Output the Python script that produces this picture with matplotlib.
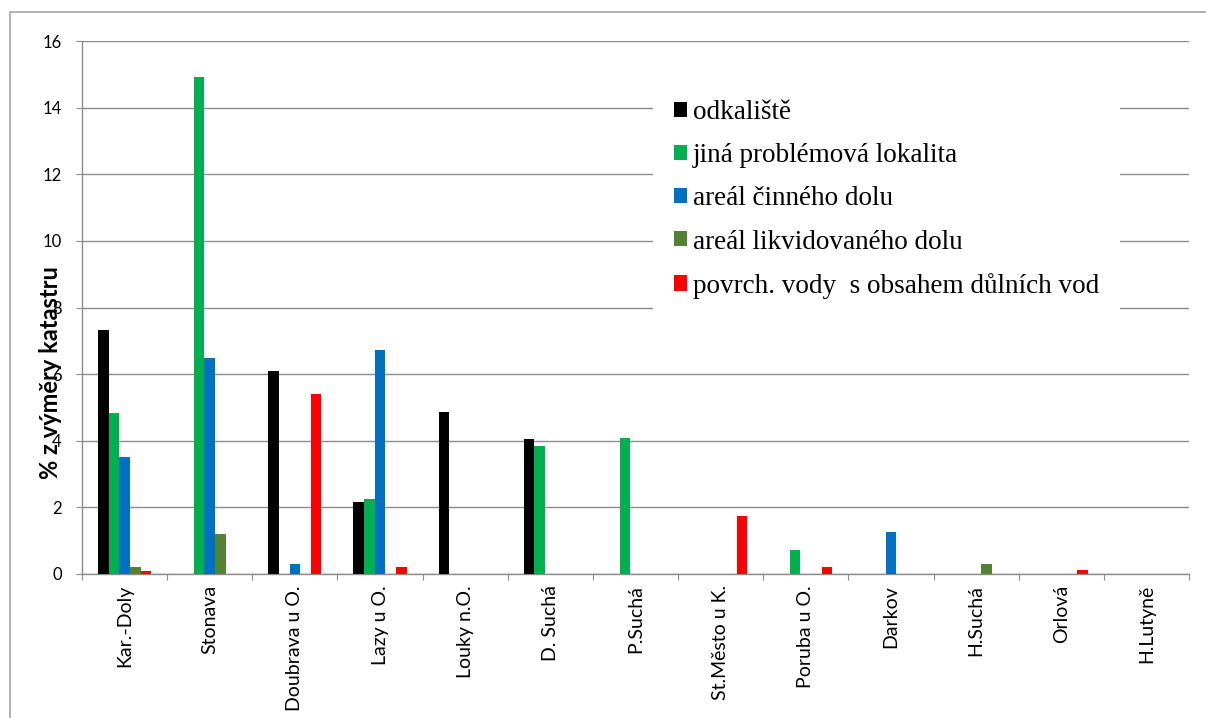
import numpy as np
import matplotlib.pyplot as plt
from matplotlib.patches import Rectangle

# lokality (poradi na ose x)
lokality = ['Kar.-Doly', 'Stonava', 'Doubrava u O.', 'Lazy u O.', 'Louky n.O.',
            'D. Suchá', 'P.Suchá', 'St.Město u K.', 'Poruba u O.', 'Darkov',
            'H.Suchá', 'Orlová', 'H.Lutyně']

# % z vymery katastru pro jednotlive typy ploch
odkaliste = [7.32, 0, 6.08, 2.17, 4.87, 4.06, 0, 0, 0, 0, 0, 0, 0]
jina_lokalita = [4.82, 14.92, 0, 2.26, 0, 3.83, 4.09, 0, 0.72, 0, 0, 0, 0]
cinny_dul = [3.51, 6.48, 0.30, 6.71, 0, 0, 0, 0, 0, 1.26, 0, 0, 0]
likvidovany_dul = [0.21, 1.20, 0, 0, 0, 0, 0, 0, 0, 0, 0.29, 0, 0]
povrch_vody = [0.10, 0, 5.39, 0.22, 0, 0, 0, 1.74, 0.22, 0, 0, 0.13, 0]

serie = [
    ('odkaliště', odkaliste, '#000000'),
    ('jiná problémová lokalita', jina_lokalita, '#00B050'),
    ('areál činného dolu', cinny_dul, '#0070C0'),
    ('areál likvidovaného dolu', likvidovany_dul, '#548235'),
    ('povrch. vody  s obsahem důlních vod', povrch_vody, '#FF0000'),
]

W, H = 1206, 718
fig = plt.figure(figsize=(W / 100, H / 100), dpi=100)
ax = fig.add_axes([82 / W, 1 - 574 / H, (1189 - 82) / W, (574 - 41) / H])

x = np.arange(len(lokality))
sirka = 0.125
handles = []
for i, (nazev, hodnoty, barva) in enumerate(serie):
    b = ax.bar(x + (i - 2) * sirka, hodnoty, width=sirka, color=barva,
               label=nazev, zorder=3)
    handles.append(b)

ax.set_xlim(-0.5, len(lokality) - 0.5)
ax.set_ylim(0, 16)
ax.set_yticks(np.arange(0, 17, 2))
ax.grid(axis='y', color='#8c8c8c', linewidth=1.0, zorder=0)

gray = '#8c8c8c'
for s in ['top', 'right']:
    ax.spines[s].set_visible(False)
for s in ['left', 'bottom']:
    ax.spines[s].set_color(gray)
    ax.spines[s].set_linewidth(1.0)

# hranice kategorii jako hlavni ticky, popisky na vedlejsich
ax.set_xticks(np.arange(-0.5, len(lokality) + 0.5, 1))
ax.set_xticklabels([])
ax.set_xticks(x, minor=True)
ax.set_xticklabels(lokality, minor=True, rotation=90, ha='center', va='top',
                   family='Lato', fontsize=14)
ax.tick_params(axis='x', which='major', direction='out', length=4.5, color=gray)
ax.tick_params(axis='x', which='minor', length=0, pad=8)
ax.tick_params(axis='y', direction='out', length=4.5, color=gray, pad=10,
               labelsize=12)
for t in ax.get_yticklabels():
    t.set_family('Lato')

fig.text(51 / W, 1 - 373 / H, '% z výměry katastru', rotation=90,
         ha='center', va='center', family='Lato', fontweight='bold',
         fontsize=17)

leg = ax.legend(handles=handles, loc='upper left',
                bbox_to_anchor=(653 / W, 1 - 79 / H),
                bbox_transform=fig.transFigure,
                prop={'family': 'Liberation Serif', 'size': 19.5},
                frameon=True, facecolor='white', edgecolor='none',
                fancybox=False, framealpha=1.0, borderpad=0.78,
                handlelength=0.48, handleheight=0.48, handletextpad=0.22,
                labelspacing=0.67, borderaxespad=0)
leg.set_zorder(5)

# ramecek grafu
fig.patches.append(Rectangle((10 / W, -0.1), 1.2, 1 - 12 / H + 0.1,
                             transform=fig.transFigure, fill=False,
                             edgecolor='#a6a6a6', linewidth=1.2))

plt.savefig('out.png', dpi=100)
